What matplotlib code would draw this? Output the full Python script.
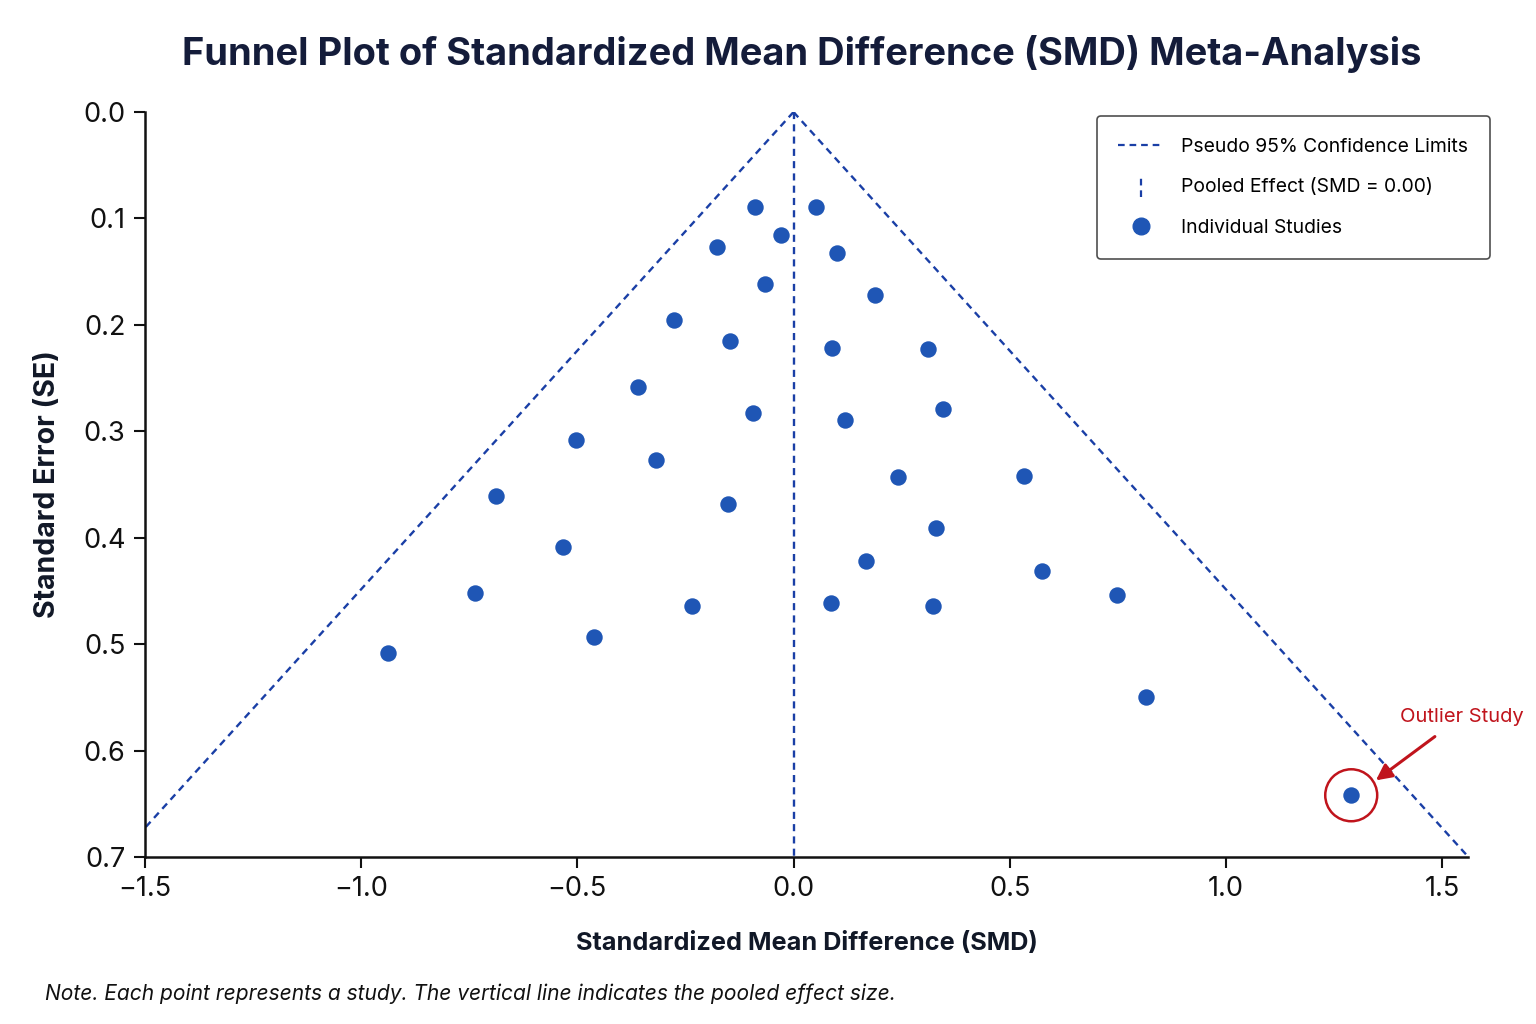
import matplotlib
matplotlib.use("Agg")
import matplotlib.pyplot as plt
from matplotlib.lines import Line2D
from matplotlib.legend_handler import HandlerBase
import numpy as np

plt.rcParams['font.family'] = ['Inter', 'DejaVu Sans']

# Individual studies (SMD, SE)
smd = [-0.088, 0.053, -0.176, -0.030, 0.100, -0.067, 0.188, -0.276, -0.146, 0.090,
       0.310, -0.359, -0.093, 0.118, 0.345, -0.503, -0.317, 0.241, 0.533, -0.688,
       -0.151, 0.329, -0.533, 0.167, 0.574, -0.737, -0.234, 0.086, 0.322, 0.748,
       -0.461, -0.938, 0.815]
se = [0.089, 0.089, 0.127, 0.116, 0.132, 0.162, 0.172, 0.195, 0.215, 0.222,
      0.223, 0.258, 0.283, 0.289, 0.279, 0.308, 0.327, 0.343, 0.342, 0.361,
      0.368, 0.391, 0.409, 0.422, 0.431, 0.452, 0.464, 0.461, 0.464, 0.454,
      0.493, 0.508, 0.550]
outlier_smd = 1.29
outlier_se = 0.642
pooled = 0.0
funnel_mult = 2.23
se_max = 0.7

x_ticks = [-1.5, -1.0, -0.5, 0.0, 0.5, 1.0, 1.5]
y_ticks = [0.0, 0.1, 0.2, 0.3, 0.4, 0.5, 0.6, 0.7]

line_col = '#1a3fa6'
pt_col = '#1f56b5'
red = '#c0141c'
dash = (0, (3, 2.2))


class VDashHandler(HandlerBase):
    def create_artists(self, legend, orig_handle, xdescent, ydescent, width, height, fontsize, trans):
        cx = width / 2 - xdescent
        l = Line2D([cx, cx], [-height * 0.35 - ydescent, height * 1.35 - ydescent],
                   color=line_col, ls=dash, lw=1.6, transform=trans)
        return [l]


fig = plt.figure(figsize=(15.36, 10.24), dpi=100)
ax = fig.add_axes([0.0944, 0.1631, 0.8613, 0.7275])

se_line = np.array([0.0, se_max])
ax.plot(pooled - funnel_mult * se_line, se_line, color=line_col, ls=dash, lw=1.7, zorder=2)
ax.plot(pooled + funnel_mult * se_line, se_line, color=line_col, ls=dash, lw=1.7, zorder=2)
ax.plot([pooled, pooled], [0.0, se_max], color=line_col, ls=dash, lw=1.7, zorder=2)

ax.scatter(smd, se, s=140, color=pt_col, zorder=3, linewidths=0)
ax.scatter([outlier_smd], [outlier_se], s=140, color=pt_col, zorder=3, linewidths=0)

# outlier highlight
ax.scatter([outlier_smd], [outlier_se], s=1400, facecolors='none', edgecolors=red, linewidths=1.8, zorder=4)
ax.annotate('Outlier Study', xy=(1.347, 0.628), xytext=(1.546, 0.568),
            color=red, fontsize=14.5, ha='center', va='center',
            arrowprops=dict(arrowstyle='-|>', color=red, lw=2.2, mutation_scale=24,
                            shrinkA=10, shrinkB=0), zorder=5, annotation_clip=False)

ax.set_xlim(-1.5, 1.56)
ax.set_ylim(se_max, 0.0)
ax.set_xticks(x_ticks)
ax.set_xticklabels(['\u22121.5', '\u22121.0', '\u22120.5', '0.0', '0.5', '1.0', '1.5'])
ax.set_yticks(y_ticks)
ax.set_yticklabels([f'{v:.1f}' for v in y_ticks])
ax.tick_params(labelsize=19.5, length=8, width=1.5, color='#111111', labelcolor='#111111', pad=6)
for s in ['top', 'right']:
    ax.spines[s].set_visible(False)
for s in ['left', 'bottom']:
    ax.spines[s].set_linewidth(1.8)
    ax.spines[s].set_color('#111111')

ax.set_xlabel('Standardized Mean Difference (SMD)', fontsize=18.2, fontweight='bold', color='#111827', labelpad=21)
ax.set_ylabel('Standard Error (SE)', fontsize=20.5, fontweight='bold', color='#111827', labelpad=16)

fig.text(0.522, 0.947, 'Funnel Plot of Standardized Mean Difference (SMD) Meta-Analysis',
         ha='center', va='center', fontsize=27.4, fontweight='bold', color='#141c3a')
fig.text(0.029, 0.030, 'Note. Each point represents a study. The vertical line indicates the pooled effect size.',
         ha='left', va='center', fontsize=15.1, style='italic', color='#111111')

handles = [
    Line2D([0], [0], color=line_col, ls=dash, lw=1.6),
    Line2D([0], [0], color=line_col),
    Line2D([0], [0], color=pt_col, ls='none', marker='o', markersize=12),
]
labels = ['Pseudo 95% Confidence Limits', 'Pooled Effect (SMD = 0.00)', 'Individual Studies']
leg = ax.legend(handles, labels, loc='upper right', bbox_to_anchor=(1.024, 1.0075), fontsize=13.9,
                frameon=True, fancybox=True, edgecolor='#222222', borderpad=1.13,
                labelspacing=1.17, handlelength=2.3, handletextpad=0.95,
                handler_map={handles[1]: VDashHandler()})
leg.get_frame().set_linewidth(1.2)

fig.savefig('out.png', dpi=100, facecolor='white')
